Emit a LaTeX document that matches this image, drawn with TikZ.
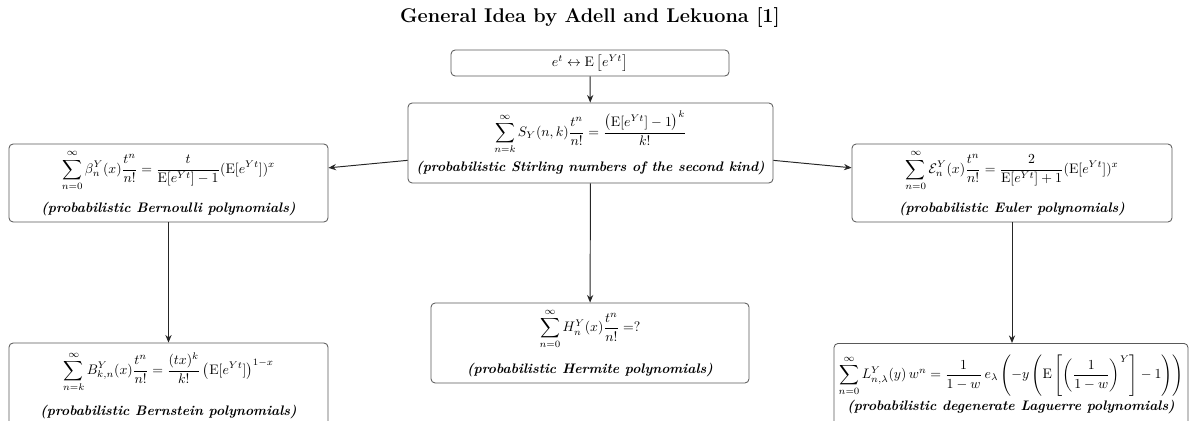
\documentclass[tikz,border=0pt]{standalone}
\usepackage{amsmath}
\usetikzlibrary{arrows.meta}
\begin{document}
\begin{tikzpicture}[x=0.7246pt,y=-0.7246pt,
  box/.style={draw=black!65,rounded corners=3pt,line width=0.6pt,align=center,inner sep=0pt,fill=white},
  conn/.style={draw=black!85,line width=0.7pt,-{Stealth[length=5.5pt,width=4.5pt]}}]
\useasboundingbox (0,0) rectangle (1189,421);
\node[font=\Large\bfseries] (title) at (590,18) {General Idea by Adell and Lekuona [1]};
\node[box,minimum width=278*0.7246pt,minimum height=26*0.7246pt] (top) at (590,63)
  {$e^t \leftrightarrow \mathrm{E}\left[e^{Yt}\right]$};
\node[box,minimum width=365*0.7246pt,minimum height=80*0.7246pt] (stir) at (590.5,143)
  {$\displaystyle\sum_{n=k}^{\infty} S_Y(n,k)\frac{t^n}{n!} = \frac{\left(\mathrm{E}[e^{Yt}]-1\right)^k}{k!}$\\[4pt]
   \textbf{\textit{(probabilistic Stirling numbers of the second kind)}}};
\node[box,minimum width=319*0.7246pt,minimum height=78*0.7246pt] (bern) at (168.5,183)
  {$\displaystyle\sum_{n=0}^{\infty}\beta_n^Y(x)\frac{t^n}{n!} = \frac{t}{\mathrm{E}[e^{Yt}]-1}(\mathrm{E}[e^{Yt}])^x$\\[7pt]
   \textbf{\textit{(probabilistic Bernoulli polynomials)}}};
\node[box,minimum width=320*0.7246pt,minimum height=78*0.7246pt] (euler) at (1012,183)
  {$\displaystyle\sum_{n=0}^{\infty}\mathcal{E}_n^Y(x)\frac{t^n}{n!} = \frac{2}{\mathrm{E}[e^{Yt}]+1}(\mathrm{E}[e^{Yt}])^x$\\[7pt]
   \textbf{\textit{(probabilistic Euler polynomials)}}};
\node[box,minimum width=318*0.7246pt,minimum height=80*0.7246pt] (herm) at (590,343)
  {$\displaystyle\sum_{n=0}^{\infty}H_n^Y(x)\frac{t^n}{n!} =?$\\[9pt]
   \textbf{\textit{(probabilistic Hermite polynomials)}}};
\node[box,minimum width=319*0.7246pt,minimum height=84*0.7246pt] (bstein) at (168.5,385)
  {$\displaystyle\sum_{n=k}^{\infty}B_{k,n}^Y(x)\frac{t^n}{n!} = \frac{(tx)^k}{k!}\left(\mathrm{E}[e^{Yt}]\right)^{1-x}$\\[8pt]
   \textbf{\textit{(probabilistic Bernstein polynomials)}}};
\node[box,minimum width=354*0.7246pt,minimum height=82*0.7246pt,anchor=north] (lag) at (1011,343)
  {$\displaystyle\sum_{n=0}^{\infty}L_{n,\lambda}^Y(y)\,w^n = \frac{1}{1-w}\,e_\lambda\left(-y\left(\mathrm{E}\left[\left(\frac{1}{1-w}\right)^Y\right]-1\right)\right)$\\[2pt]
   \textbf{\textit{(probabilistic degenerate Laguerre polynomials)}}};
\draw[conn] (top) -- (stir);
\draw[conn] (stir) -- (bern);
\draw[conn] (stir) -- (euler);
\draw[conn] (stir) -- (herm);
\draw[conn] (bern) -- (bstein);
\draw[conn] (euler) -- (euler |- lag.north);
\end{tikzpicture}
\end{document}
